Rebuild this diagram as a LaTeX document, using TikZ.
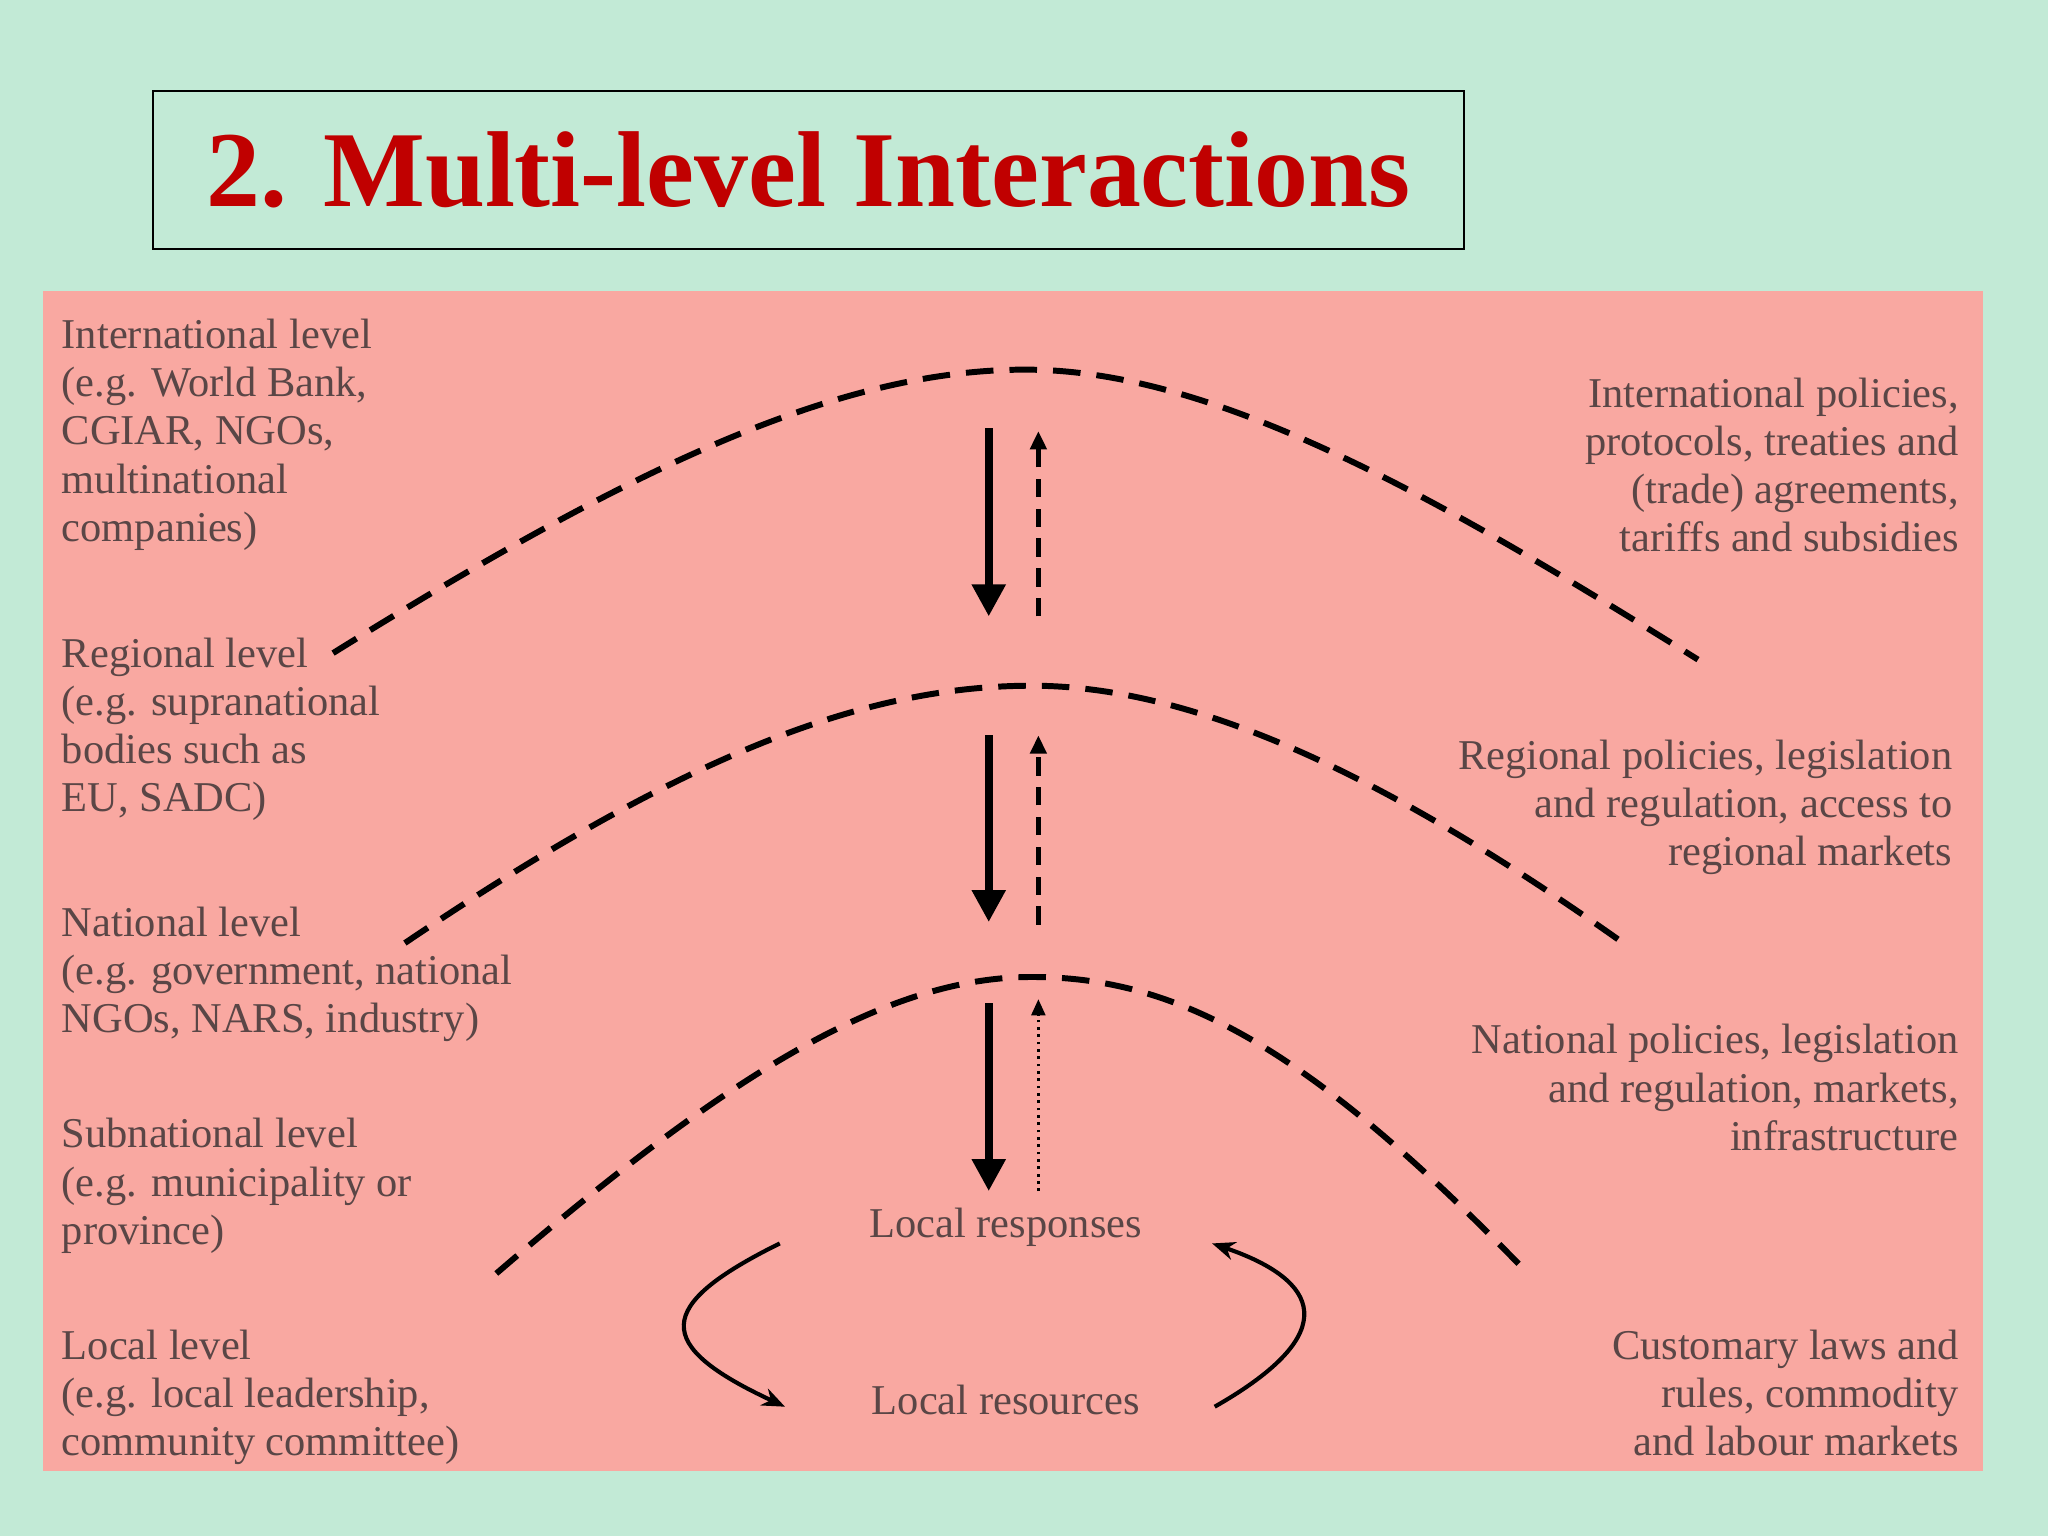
\documentclass[tikz,border=0pt]{standalone}
\usepackage{fontspec}
\setmainfont{Liberation Serif}
\usetikzlibrary{arrows.meta}
\definecolor{bg}{HTML}{C2EAD6}
\definecolor{pinkbg}{HTML}{F9A8A1}
\definecolor{titlered}{HTML}{C00000}
\definecolor{txt}{HTML}{5A4646}
\begin{document}
\begin{tikzpicture}[x=0.02cm,y=-0.02cm,
  lab/.style={text=txt,font=\fontsize{18.5}{21}\selectfont,inner sep=0pt,align=left},
  labr/.style={lab,align=right},
  arc/.style={line width=2.6pt,dash pattern=on 12pt off 7pt},
  down/.style={line width=3.5pt,-{Triangle[length=14pt,width=14pt]}},
  updash/.style={line width=2pt,dash pattern=on 8pt off 5pt,-{Triangle[length=8pt,width=7pt]}},
  updot/.style={line width=1.2pt,dotted,-{Triangle[length=7pt,width=6pt]}},
  cyc/.style={line width=1.8pt,-{Stealth[length=10pt,width=8pt]}}]
\useasboundingbox (0,0) rectangle (1568,1176);
\fill[bg] (0,0) rectangle (1568,1176);
\fill[pinkbg] (33,223) rectangle (1518,1126);
\node[draw=black,line width=0.8pt,minimum width=1004*0.02cm,minimum height=121*0.02cm,inner sep=0pt,
  text=titlered,font=\fontsize{47}{56}\selectfont\bfseries] (title) at (619,130) {2. Multi-level Interactions};

\node[lab,anchor=north west] (l1) at (47,244) {International level\\(e.g. World Bank,\\CGIAR, NGOs,\\multinational\\companies)};
\node[lab,anchor=north west] (l2) at (47,488) {Regional level\\(e.g. supranational\\bodies such as\\EU, SADC)};
\node[lab,anchor=north west] (l3) at (47,694) {National level\\(e.g. government, national\\NGOs, NARS, industry)};
\node[lab,anchor=north west] (l4) at (47,856) {Subnational level\\(e.g. municipality or\\province)};
\node[lab,anchor=north west] (l5) at (47,1018) {Local level\\(e.g. local leadership,\\community committee)};

\node[labr,anchor=north east] (r1) at (1500,289) {International policies,\\protocols, treaties and\\(trade) agreements,\\tariffs and subsidies};
\node[labr,anchor=north east] (r2) at (1495,566) {Regional policies, legislation\\and regulation, access to\\regional markets};
\node[labr,anchor=north east] (r3) at (1500,784) {National policies, legislation\\and regulation, markets,\\infrastructure};
\node[labr,anchor=north east] (r4) at (1500,1018) {Customary laws and\\rules, commodity\\and labour markets};

\node[lab] (resp) at (770,940) {Local responses};
\node[lab] (res) at (770,1072) {Local resources};

\coordinate (a1s) at (255,500); \coordinate (a1p) at (785,283); \coordinate (a1e) at (1300,505);
\coordinate (a2s) at (310,722); \coordinate (a2p) at (790,525); \coordinate (a2e) at (1240,720);
\coordinate (a3s) at (380,975); \coordinate (a3p) at (790,748); \coordinate (a3e) at (1165,970);
\draw[arc] (a1s) .. controls (480,360) and (640,283) .. (a1p) .. controls (930,283) and (1100,380) .. (a1e);
\draw[arc] (a2s) .. controls (520,580) and (660,525) .. (a2p) .. controls (920,525) and (1070,600) .. (a2e);
\draw[arc] (a3s) .. controls (560,820) and (680,748) .. (a3p) .. controls (900,748) and (1000,800) .. (a3e);

\coordinate (d1a) at (757,328); \coordinate (d1b) at (757,472);
\coordinate (d2a) at (757,563); \coordinate (d2b) at (757,706);
\coordinate (d3a) at (757,768); \coordinate (d3b) at (757,912);
\draw[down] (d1a) -- (d1b);
\draw[down] (d2a) -- (d2b);
\draw[down] (d3a) -- (d3b);
\coordinate (u1a) at (795,472); \coordinate (u1b) at (795,330);
\coordinate (u2a) at (795,708); \coordinate (u2b) at (795,563);
\coordinate (u3a) at (795,912); \coordinate (u3b) at (795,765);
\draw[updash] (u1a) -- (u1b);
\draw[updash] (u2a) -- (u2b);
\draw[updot] (u3a) -- (u3b);

\coordinate (c1a) at (597,952); \coordinate (c1b) at (601,1077);
\coordinate (c2a) at (930,1077); \coordinate (c2b) at (928,952);
\draw[cyc] (c1a) .. controls (500,1000) and (500,1030) .. (c1b);
\draw[cyc] (c2a) .. controls (1030,1020) and (1010,980) .. (c2b);
\end{tikzpicture}
\end{document}
